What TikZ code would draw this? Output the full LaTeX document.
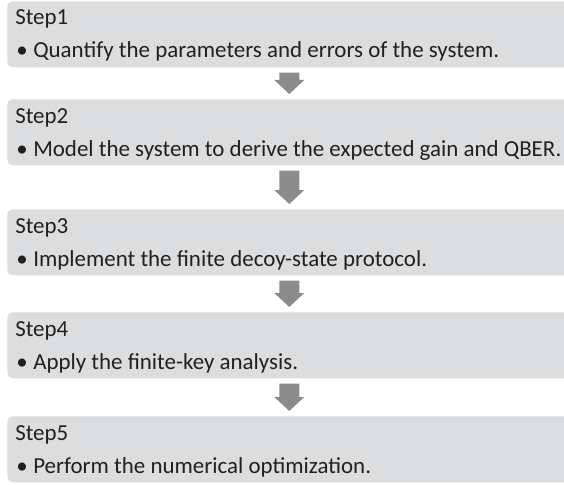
\documentclass[tikz,border=0pt]{standalone}
\usepackage{fontspec}
\setmainfont{Carlito}
\usepackage{xcolor}
\usetikzlibrary{calc}
\usetikzlibrary{positioning}

\definecolor{boxgrey}{RGB}{220,221,222}
\definecolor{arrowgrey}{RGB}{139,140,142}
\definecolor{textgrey}{RGB}{35,31,32}

\tikzset{
  stepbox/.style={fill=boxgrey, rounded corners=4pt, minimum width=423pt, minimum height=49.5pt, inner sep=0pt, anchor=north west},
  steptext/.style={text=textgrey, font=\fontsize{17.2pt}{20pt}\selectfont, inner sep=0pt, anchor=base west},
  flowarrow/.style={fill=arrowgrey}
}

\begin{document}
\begin{tikzpicture}[x=0.75pt,y=0.75pt,yscale=-1,xscale=1]
\useasboundingbox (0,0) rectangle (564,485);

%Boxes with title and bullet line
\foreach \i/\top/\txt in {1/1/{Quantify the parameters and errors of the system.},
                          2/99/{Model the system to derive the expected gain and QBER.},
                          3/209/{Implement the finite decoy-state protocol.},
                          4/312/{Apply the finite-key analysis.},
                          5/416/{Perform the numerical optimization.}}{
  \node[stepbox] (s\i) at (7,\top) {};
  \node[steptext] (t\i) at ($(s\i.north west)+(8,24)$) {Step\i};
  \node[steptext] (b\i) at ($(s\i.north west)+(9,57)$) {\textbullet};
  \node[steptext] (d\i) at ($(s\i.north west)+(26,57)$) {\txt};
}

%Block arrows between the boxes
\foreach \a/\b in {s1/s2,s2/s3,s3/s4,s4/s5}{
  \coordinate (tail) at ($(\a.south)+(0,5)$);
  \coordinate (head) at ($(\b.north)+(0,-5)$);
  \fill[flowarrow] ($(tail)+(-10,0)$) -- ($(head)+(-10,-14)$) -- ($(head)+(-15,-14)$) -- (head)
    -- ($(head)+(15,-14)$) -- ($(head)+(10,-14)$) -- ($(tail)+(10,0)$) -- cycle;
}

\end{tikzpicture}
\end{document}
